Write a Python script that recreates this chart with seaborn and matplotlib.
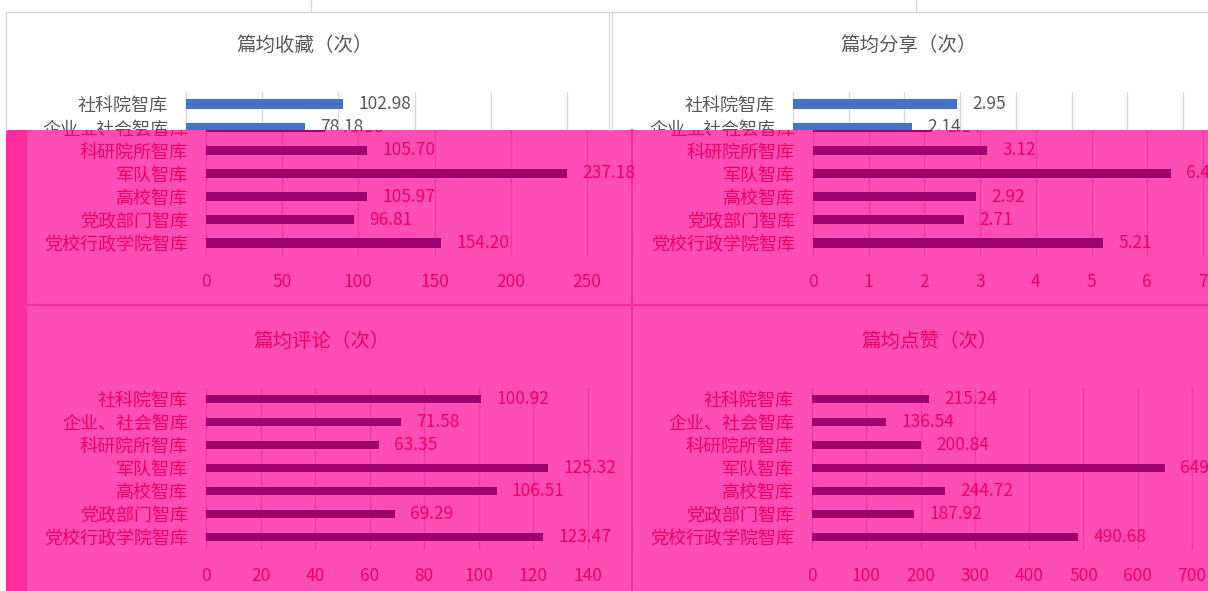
import matplotlib
matplotlib.use("Agg")
import matplotlib.pyplot as plt
import seaborn as sns
import pandas as pd
from matplotlib.transforms import Bbox, TransformedBbox
from matplotlib.patches import Rectangle
from matplotlib.lines import Line2D
from matplotlib.text import Text

# ---------------- data ----------------
categories = ['社科院智库', '企业、社会智库', '科研院所智库', '军队智库',
              '高校智库', '党政部门智库', '党校行政学院智库']
collect_vals = [102.98, 78.18, 105.70, 237.18, 105.97, 96.81, 154.20]
share_vals = [2.95, 2.14, 3.12, 6.42, 2.92, 2.71, 5.21]
comment_vals = [100.92, 71.58, 63.35, 125.32, 106.51, 69.29, 123.47]
like_vals = [215.24, 136.54, 200.84, 649.50, 244.72, 187.92, 490.68]
titles = ['篇均收藏（次）', '篇均分享（次）', '篇均评论（次）', '篇均点赞（次）']
ticks_collect = [0, 50, 100, 150, 200, 250]
ticks_share = [0, 1, 2, 3, 4, 5, 6, 7]
ticks_comment = [0, 20, 40, 60, 80, 100, 120, 140]
ticks_like = [0, 100, 200, 300, 400, 500, 600, 700]

# ---------------- figure ----------------
sns.set_style("white")
plt.rcParams['font.family'] = ['Noto Sans CJK SC', 'DejaVu Sans']

W, H = 1208, 591
fig = plt.figure(figsize=(W / 100, H / 100), dpi=100)
fig.patch.set_facecolor('white')


def frac(x0, y0, x1, y1):
    return [x0 / W, 1 - y1 / H, (x1 - x0) / W, (y1 - y0) / H]


def clipbox(x0, y0, x1, y1):
    return TransformedBbox(Bbox.from_extents(x0 / W, 1 - y1 / H, x1 / W, 1 - y0 / H),
                           fig.transFigure)


def fig_line(xs, ys, color, lw=1.0):
    fig.add_artist(Line2D([x / W for x in xs], [1 - y / H for y in ys],
                          transform=fig.transFigure, color=color, lw=lw, zorder=-1))


# pink overlay region (reference artefact)
fig.add_artist(Rectangle((6 / W, 0), (W - 6) / W, 1 - 130 / H, transform=fig.transFigure,
                         facecolor='#FF4DB6', edgecolor='none', zorder=-2))
fig.add_artist(Rectangle((6 / W, 0), 21 / W, 1 - 130 / H, transform=fig.transFigure,
                         facecolor='#FF2C9E', edgecolor='none', zorder=-2))

# panel borders (white region)
grey_line = '#D9D9D9'
fig_line([6, W], [12, 12], grey_line)
fig_line([6, 6], [12, 130], grey_line)
fig_line([609, 609], [12, 130], grey_line)
fig_line([612, 612], [12, 130], grey_line)
fig_line([311, 311], [0, 12], grey_line)
fig_line([916, 916], [0, 12], grey_line)
# panel borders (pink region)
fig_line([632, 632], [130, H], '#EE2F9E', lw=1.6)
fig_line([27, W], [305, 305], '#EE2F9E', lw=1.6)

panels = [
    (collect_vals, titles[0], ticks_collect, (186, 567), (92.4, 254.6), (305, 45)),
    (share_vals, titles[1], ticks_share, (793, 1183), (92.4, 254.6), (909, 45)),
    (comment_vals, titles[2], ticks_comment, (186, 568), (387.5, 548.5), (302, 341)),
    (like_vals, titles[3], ticks_like, (792, 1172), (387.5, 548.5), (910, 341)),
]

layers = [
    dict(bar='#4472C4', text='#595959', grid='#D9D9D9', dx=0, clip=(0, 0, W, 130)),
    dict(bar='#9E006F', text='#EE0062', grid='#EE3AA6', dx=20, clip=(27, 130, W, H)),
]

layer_artists = []
for st in layers:
    dx = st['dx']
    axes_list, texts = [], []
    for vals, title, ticks, (x0, x1), (y0, y1), (tx, ty) in panels:
        ax = fig.add_axes(frac(x0 + dx, y0, x1 + dx, y1))
        df = pd.DataFrame({'cat': categories, 'val': vals})
        sns.barplot(data=df, x='val', y='cat', orient='h', color=st['bar'],
                    saturation=1, width=0.39, ax=ax, zorder=3,
                    edgecolor='none', linewidth=0)
        ax.set_xlim(0, ticks[-1])
        ax.set_ylim(6.5, -0.5)
        ax.set_xticks(ticks)
        ax.set_xlabel('')
        ax.set_ylabel('')
        ax.grid(axis='x', color=st['grid'], lw=1.0)
        ax.grid(axis='y', visible=False)
        ax.set_axisbelow(True)
        for s in ax.spines.values():
            s.set_visible(False)
        ax.patch.set_alpha(0)
        ax.tick_params(axis='y', length=0, pad=13, labelsize=13, labelcolor=st['text'])
        ax.tick_params(axis='x', length=0, pad=13, labelsize=12.5, labelcolor=st['text'])
        ax.bar_label(ax.containers[0], fmt='%.2f', padding=11, color=st['text'],
                     fontsize=12.5)
        t = fig.text((tx + dx) / W, 1 - ty / H, title, ha='center', va='center',
                     fontsize=14, color=st['text'])
        axes_list.append(ax)
        texts.append(t)
    layer_artists.append((st, axes_list, texts))

fig.canvas.draw()
renderer = fig.canvas.get_renderer()

for st, axes_list, texts in layer_artists:
    cb = clipbox(*st['clip'])
    region = Bbox(cb.get_points())
    arts = list(texts)
    for ax in axes_list:
        arts += [a for a in ax.findobj() if a is not ax]
    for art in arts:
        art.set_clip_path(None)
        art.set_clip_box(cb)
        art.set_clip_on(True)
        if isinstance(art, Text) and art.get_visible():
            if art.get_text() == '':
                continue
            ext = art.get_window_extent(renderer)
            if not ext.overlaps(region):
                art.set_visible(False)

fig.savefig('out.png', dpi=100, facecolor='white')
